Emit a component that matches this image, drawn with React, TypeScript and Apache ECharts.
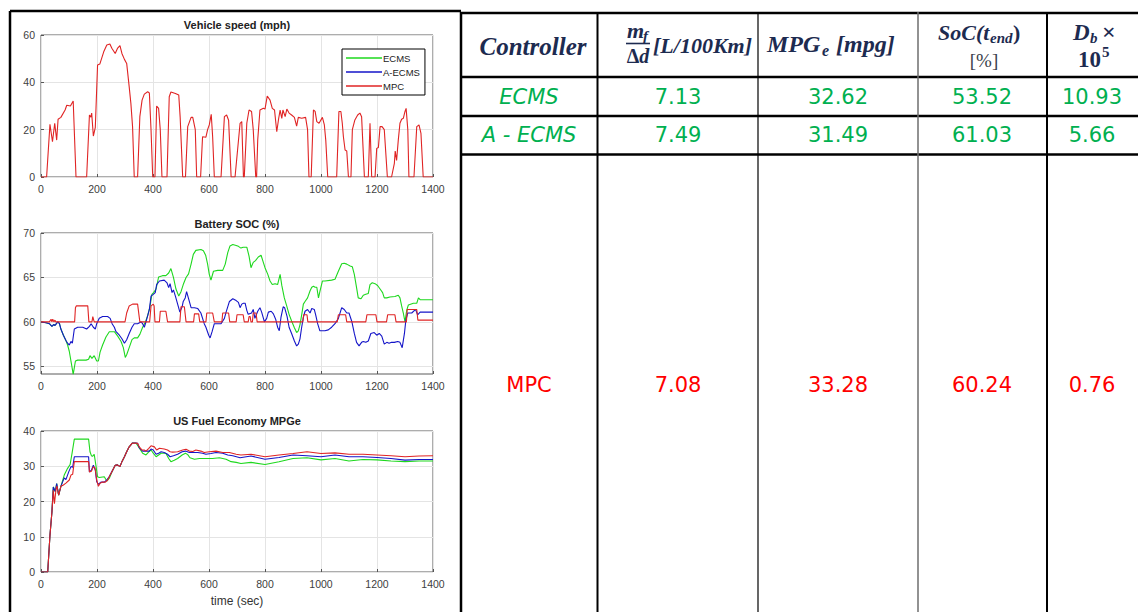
import React, { useEffect, useRef } from "react";
import * as echarts from "echarts";

// ---------------- data ----------------
const timeTicks = [0, 200, 400, 600, 800, 1000, 1200, 1400];
const controllers = ["ECMS", "A - ECMS", "MPC"];
const fuelRate = ["7.13", "7.49", "7.08"];
const mpgeValues = ["32.62", "31.49", "33.28"];
const socEnd = ["53.52", "61.03", "60.24"];
const dbValues = ["10.93", "5.66", "0.76"];

const speedMph: number[][] = [[0,0],[20,0],[32,22.3],[41,14.9],[49,22.7],[56,15.6],[61,24.4],[71,25.2],[86,28.3],[92,30.3],[105,30],[115,32.1],[125,0],[163,0],[173,26.2],[178,25.3],[181,27],[187,17.3],[194,21],[202,47.3],[210,47.7],[224,52.9],[235,55.8],[246,56.2],[253,54.4],[265,52.2],[273,54.3],[282,55.5],[289,52.2],[298,49.7],[306,48],[315,38.1],[321,31.1],[327,21.3],[333,0],[345,0],[353,25.5],[361,32.5],[369,35],[381,36],[387,35.5],[393,19.9],[399,0],[407,0],[413,30],[420,29],[426,19.9],[432,0],[450,0],[458,33.9],[464,35.9],[480,35.3],[492,34.6],[497,25.3],[506,0],[516,0],[524,21.3],[536,25.2],[542,25.2],[551,20],[556,0],[570,0],[577,17],[589,16.8],[595,20],[601,22],[608,26.5],[613,17],[619,0],[643,0],[655,25.5],[663,26.2],[670,24],[679,0],[693,0],[711,22.7],[717,23.4],[723,0],[726,0],[735,22.7],[743,28.3],[752,27.7],[758,20],[767,0],[770,0],[774,15.6],[782,28.3],[794,29],[800,28.7],[808,34.2],[818,32.5],[826,29],[834,28.3],[842,19.1],[848,24.1],[854,28.3],[860,24.8],[864,28.3],[872,25.5],[878,28.7],[886,27],[895,26.2],[905,25.2],[913,21.5],[919,25.2],[931,24.8],[945,25.2],[952,20],[957,0],[965,0],[973,28.3],[979,27.7],[985,23.4],[993,22.7],[1005,25.2],[1012,22],[1017,15.6],[1024,0],[1056,0],[1064,27.7],[1071,27.7],[1076,22.7],[1080,17],[1086,11.4],[1092,11],[1098,0],[1107,0],[1112,20],[1121,24.1],[1131,26.2],[1139,27],[1145,25.5],[1155,0],[1169,0],[1175,22.7],[1181,0],[1193,0],[1199,12.1],[1205,12.5],[1211,21.3],[1218,21.3],[1226,20],[1237,0],[1252,0],[1262,5.8],[1265,11],[1270,7],[1276,15.6],[1282,22.7],[1288,24.4],[1294,24.8],[1300,27.7],[1304,29],[1310,20],[1314,0],[1332,0],[1342,21.3],[1350,22],[1357,18.4],[1365,0],[1400,0]];

const socEcms: number[][] = [[0,60],[18,59.9],[30,59.8],[39,59.5],[45,59.7],[50,59.6],[60,60],[66,59.8],[71,59.2],[80,58.5],[89,57.9],[95,57.4],[101,56.7],[111,54.85],[115,54.1],[123,55.6],[131,55.7],[161,55.7],[170,55.8],[175,56.2],[182,55.9],[190,56.2],[199,55.6],[205,55.6],[211,56.6],[220,57.4],[232,58.3],[244,58.9],[262,58.9],[274,58.4],[286,57.8],[294,57.1],[301,56],[306,56.3],[315,57.1],[325,58],[333,58.2],[345,58.2],[353,58.6],[363,59.4],[373,60],[381,60.7],[389,61.7],[396,63.1],[402,63.3],[411,63.7],[420,65.05],[434,65.2],[446,65.2],[456,65.5],[464,66],[473,65],[482,63.7],[492,62.9],[500,63.4],[508,64.2],[518,65],[527,65.4],[536,66.5],[544,67.6],[553,68.05],[571,68.15],[580,68],[588,67.5],[595,66.5],[601,65.35],[607,64.7],[616,65.7],[631,65.8],[649,65.8],[658,66.5],[667,67.8],[675,68.55],[685,68.7],[697,68.6],[705,68.5],[714,68.3],[722,68.4],[735,68.4],[743,67.4],[750,66.1],[758,66.7],[766,66.9],[776,67.3],[786,67.5],[794,66.7],[800,66.1],[810,65.35],[818,64.6],[826,64.2],[836,64.3],[845,64.2],[854,65.35],[860,64.1],[869,62.7],[878,61.75],[886,60.85],[895,60.1],[905,59.35],[913,58.8],[919,59],[925,59.7],[931,60.8],[937,62],[943,62.3],[952,62.7],[961,63.5],[967,63.9],[973,64],[979,63.9],[985,63.9],[991,62.7],[996,63.4],[1005,64.6],[1014,64.6],[1038,64.7],[1050,64.8],[1062,65.7],[1074,66.55],[1083,66.6],[1092,66.5],[1104,66.3],[1112,66.2],[1119,65.35],[1127,63.85],[1133,62.7],[1143,62.6],[1151,63],[1160,63.1],[1169,63.2],[1175,64.2],[1183,64.4],[1193,64.3],[1202,64.1],[1211,63.7],[1220,63.3],[1226,62.7],[1235,62.7],[1246,62.8],[1264,62.85],[1276,63],[1282,62.7],[1288,61.8],[1294,61],[1300,60],[1306,61.3],[1312,61.9],[1330,62.1],[1342,62.1],[1348,62.7],[1354,62.5],[1400,62.5]];

const socAecms: number[][] = [[0,60],[18,59.9],[30,59.8],[39,59.5],[45,59.7],[50,59.6],[60,60],[66,59.8],[71,59.2],[80,58.5],[89,57.9],[95,57.6],[101,57.4],[107,57.8],[112,57.6],[119,59.2],[131,59.4],[149,59.4],[163,59.2],[173,59.5],[179,59.8],[187,59.4],[194,59.2],[199,59.8],[208,60.4],[220,60.6],[238,60.6],[247,60.4],[254,59.8],[262,59.4],[268,58.9],[280,58.5],[289,58.1],[298,57.6],[306,58],[315,58.7],[325,59.4],[333,59.8],[345,59.8],[357,60],[363,59.8],[369,59.4],[375,60],[387,61.4],[393,62.9],[401,63.1],[408,63.3],[413,64.2],[423,64.6],[440,64.7],[450,64.4],[456,63.85],[461,64.3],[468,63.3],[473,63.6],[480,62.9],[488,62],[496,61.1],[504,61.7],[508,62.3],[515,62.7],[520,63.4],[528,62.5],[536,61.6],[548,61.6],[560,61.5],[571,61],[583,59.8],[589,59.4],[599,58.5],[604,58.2],[611,58.9],[619,59.8],[631,59.8],[643,59.8],[655,60.4],[661,61.1],[673,62.3],[685,62.6],[697,62.4],[705,62.2],[711,61.6],[717,62],[723,62.1],[729,62.1],[735,61.3],[740,60.85],[752,61],[758,61.4],[764,60.4],[774,61.2],[782,61.6],[788,61.1],[798,60],[806,60.4],[812,61.1],[822,61.2],[830,60.9],[838,60.3],[845,59.4],[851,59],[857,60.5],[865,61.7],[870,61.6],[879,60.6],[886,59.4],[895,58.7],[905,57.85],[913,57.3],[919,57.5],[925,58.1],[931,59.4],[937,60.5],[943,61.2],[952,61.4],[961,61],[967,61.5],[976,61.4],[981,60.8],[988,59.8],[996,59],[1005,59],[1014,59],[1026,59.1],[1038,59.4],[1050,59.8],[1062,60.4],[1074,61.6],[1083,61.4],[1092,61],[1100,61],[1110,60.05],[1119,58.7],[1127,57.7],[1136,57.3],[1145,57.7],[1151,57.8],[1160,57.7],[1169,57.85],[1178,58.7],[1190,58.8],[1199,58.5],[1208,58.7],[1217,58.4],[1226,57.5],[1235,57.7],[1243,57.6],[1252,57.7],[1262,57.7],[1274,57.8],[1282,57.7],[1290,57.1],[1298,58.7],[1303,60.2],[1310,61],[1324,61],[1338,61.4],[1345,60.8],[1354,61.1],[1400,61.1]];

const socMpc: number[][] = [[0,60],[30,60],[36,60.3],[39,60],[42,60.3],[46,60],[50,60.2],[53,60],[120,60],[123,61.6],[126,61.8],[167,61.8],[171,60],[182,60],[185,60.6],[190,60],[300,60],[306,61],[315,61.8],[327,62],[345,62],[353,60],[388,60],[393,61.8],[401,62],[404,61.8],[407,60],[423,60],[426,61.2],[446,61.2],[452,60],[496,60],[500,61.7],[512,61.7],[518,60],[545,60],[548,60.9],[563,60.9],[567,60],[589,60],[592,61],[613,61],[619,60],[646,60],[649,61],[670,61],[674,60],[697,60],[700,60.8],[722,60.8],[726,60],[740,60],[743,60.6],[747,60.6],[750,60],[755,60],[758,61],[768,61],[772,60],[935,60],[938,60.8],[950,60.8],[953,60],[1058,60],[1062,60.8],[1088,60.8],[1092,60],[1160,60],[1164,60.8],[1196,60.8],[1200,60],[1234,60],[1238,60.8],[1264,60.8],[1268,60],[1305,60],[1308,61.4],[1342,61.4],[1346,60.2],[1400,60.2]];

const mpgEcms: number[][] = [[0,0],[24,0],[32,10.4],[39,17],[44,24.1],[51,22.8],[56,25.1],[63,21.8],[71,24.3],[83,27.5],[95,29.4],[104,30.5],[111,33.7],[119,37.7],[170,37.7],[175,34.1],[180,33],[184,32.8],[190,33.4],[196,30.3],[202,27],[208,26.8],[226,27],[235,25.8],[244,26.6],[256,28.9],[265,30.3],[273,30.4],[282,29.9],[289,31.3],[298,32.7],[306,34.1],[315,35.5],[327,36.6],[339,36.6],[351,35.2],[363,33.7],[375,33.2],[385,34.1],[393,34.6],[401,33.7],[411,32.7],[420,33.2],[429,33.7],[446,33.7],[456,32.2],[464,31.3],[476,31.7],[488,32.2],[504,33.2],[516,33.7],[524,33.3],[532,32.4],[548,32],[566,32.2],[589,32.2],[613,32.2],[637,32.4],[661,32],[679,31.3],[697,31.1],[714,30.8],[750,31.1],[800,30.5],[850,31.3],[900,32.2],[950,32.4],[1000,31.8],[1050,32.2],[1100,31.5],[1150,31.9],[1200,31.8],[1250,31.5],[1300,31.3],[1350,31.5],[1400,31.5]];

const mpgAecms: number[][] = [[0,0],[24,0],[32,10.4],[39,17],[44,24.1],[51,22.8],[56,25.1],[63,21.8],[71,24.3],[83,26.7],[89,26.2],[99,28.4],[107,29.9],[113,29.7],[119,32.7],[170,32.7],[173,28.4],[180,28.9],[187,30.3],[194,28.9],[199,25.6],[205,24.9],[214,25.5],[226,25.5],[235,26.1],[244,27.1],[256,28.9],[265,30.3],[273,30.4],[282,29.9],[289,31.3],[298,32.7],[306,34.1],[315,35.5],[327,36.6],[339,36.6],[345,36.5],[351,35.2],[363,34.3],[387,34.3],[393,34.9],[401,34.6],[411,33.4],[420,33.7],[429,34.1],[440,33.9],[452,33.4],[461,32.7],[473,33],[488,33.4],[504,34.1],[516,34.3],[530,33.9],[560,33.9],[577,33.7],[589,33.4],[607,33.6],[625,33.9],[649,33.7],[667,33.2],[685,33],[711,32.4],[750,32.9],[800,32],[850,32.5],[900,33.2],[950,33],[1000,32.7],[1050,33.2],[1100,32.7],[1150,32.7],[1200,32.5],[1250,32.2],[1300,31.75],[1350,31.9],[1400,31.9]];

const mpgMpc: number[][] = [[0,0],[24,0],[32,10.4],[39,17],[44,23.2],[48,19.4],[54,23.6],[57,24.4],[63,21.8],[71,24.3],[80,24.7],[89,25.2],[101,26.1],[107,27.5],[113,27.7],[119,31.3],[170,31.3],[173,28.4],[180,28.6],[187,29.9],[193,29.5],[199,26.1],[205,24.3],[211,25.2],[220,25.5],[230,25.5],[238,26.1],[247,27.5],[256,28.9],[265,30.3],[273,30.4],[282,29.9],[289,31.3],[298,32.7],[306,34.1],[315,35.5],[325,36.5],[333,36.6],[345,36.5],[351,35.5],[361,34.6],[369,34.6],[375,34.3],[385,35.1],[393,35.8],[405,35.5],[413,34.6],[423,35.1],[440,34.9],[452,34.6],[461,34.1],[470,34],[488,34.1],[506,34.6],[518,34.8],[530,34.3],[542,34.2],[553,34.6],[571,34.3],[583,33.9],[601,34.1],[625,34.3],[649,33.9],[673,33.9],[697,33.4],[714,33.2],[750,33.4],[800,32.7],[850,33.2],[900,33.6],[950,34.1],[1000,33.6],[1050,33.8],[1100,33.4],[1150,33.4],[1200,33.2],[1250,33],[1300,32.7],[1350,32.9],[1400,33]];

// ---------------- styles ----------------
const GREEN = "#1ed81e";
const BLUE = "#1414c8";
const RED = "#e02424";
const TBL_GREEN = "#00b050";
const TBL_RED = "#ff0000";
const NAVY = "#1d2b50";
const AX_FONT = "Liberation Sans";

const grids = [
  { left: 41, top: 35, width: 392, height: 142 },
  { left: 41, top: 233, width: 392, height: 141 },
  { left: 41, top: 431, width: 392, height: 141 },
];

function xAxisFor(i: number) {
  return {
    type: "value",
    gridIndex: i,
    min: 0,
    max: 1400,
    interval: 200,
    axisLine: { show: false },
    axisTick: { show: true, inside: true, length: 3, lineStyle: { color: "#555" } },
    axisLabel: {
      show: true,
      color: "#404040",
      fontFamily: AX_FONT,
      fontSize: 10.5,
      margin: 6,
      customValues: timeTicks,
      formatter: (v: number) => String(v),
    },
    splitLine: { show: true, lineStyle: { color: "#e4e4e4", width: 1 } },
  };
}

function yAxisFor(i: number, min: number, max: number, ticks: number[]) {
  return {
    type: "value",
    gridIndex: i,
    min,
    max,
    axisLine: { show: false },
    axisTick: { show: true, inside: true, length: 3, lineStyle: { color: "#555" }, customValues: ticks },
    axisLabel: {
      show: true,
      color: "#404040",
      fontFamily: AX_FONT,
      fontSize: 10.5,
      margin: 6,
      customValues: ticks,
      formatter: (v: number) => String(v),
    },
    splitLine: { show: true, lineStyle: { color: "#e4e4e4", width: 1 } },
  };
}

function line(name: string, data: number[][], color: string, i: number, z: number) {
  return {
    type: "line",
    name,
    data,
    xAxisIndex: i,
    yAxisIndex: i,
    symbol: "none",
    showSymbol: false,
    z,
    lineStyle: { color, width: 1.1 },
    itemStyle: { color },
    emphasis: { disabled: true },
  };
}

function txt(x: number, y: number, text: string, o: any = {}) {
  return {
    type: "text",
    x,
    y,
    silent: true,
    style: {
      text,
      fill: o.fill || NAVY,
      fontSize: o.size || 22,
      fontFamily: o.family || "Liberation Serif",
      fontWeight: o.weight || "bold",
      fontStyle: o.style || "italic",
      align: o.align || "left",
      verticalAlign: "middle",
    },
  };
}

function seg(x1: number, y1: number, x2: number, y2: number, w: number, c = "#000") {
  return { type: "line", silent: true, shape: { x1, y1, x2, y2 }, style: { stroke: c, lineWidth: w } };
}

function buildGraphic() {
  const els: any[] = [];
  // left panel frame
  els.push(seg(10, 11, 10, 612, 2.5));
  els.push(seg(10, 11, 461, 11, 2.5));
  // chart titles
  const title = (x: number, y: number, t: string) =>
    txt(x, y, t, { family: AX_FONT, size: 11, weight: "bold", style: "normal", fill: "#222", align: "center" });
  els.push(title(237, 25, "Vehicle speed (mph)"));
  els.push(title(237, 224, "Battery SOC (%)"));
  els.push(title(237, 421, "US Fuel Economy MPGe"));
  els.push(txt(237, 601, "time (sec)", { family: AX_FONT, size: 12, weight: "normal", style: "normal", fill: "#333", align: "center" }));

  // table grid
  els.push(seg(461, 12, 461, 612, 2.5));
  els.push(seg(460, 13, 1138, 13, 2.5));
  els.push(seg(460, 77, 1138, 77, 2.5));
  els.push(seg(460, 116, 1138, 116, 2.5));
  els.push(seg(460, 154.5, 1138, 154.5, 2.5));
  els.push(seg(597.5, 12, 597.5, 612, 2));
  els.push(seg(758, 12, 758, 612, 1.2));
  els.push(seg(918, 12, 918, 612, 1.5, "#6e6e6e"));
  els.push(seg(1047, 12, 1047, 612, 2));

  // header
  els.push(txt(533, 46, "Controller", { size: 25, align: "center" }));
  // m_f / Δd [L/100Km]
  els.push(txt(627, 30, "m", { size: 22 }));
  els.push(txt(643, 36, "f", { size: 15 }));
  els.push(seg(626, 43.5, 650, 43.5, 1.6, NAVY));
  els.push({
    type: "text",
    x: 638,
    y: 56,
    silent: true,
    style: {
      text: "{a|Δ}{b|d}",
      align: "center",
      verticalAlign: "middle",
      rich: {
        a: { fontFamily: "Liberation Serif", fontWeight: "bold", fontSize: 20, fill: NAVY, color: NAVY },
        b: { fontFamily: "Liberation Serif", fontWeight: "bold", fontStyle: "italic", fontSize: 20, fill: NAVY, color: NAVY },
      },
    },
  });
  els.push(txt(653, 45, "[L/100Km]", { size: 22 }));
  // MPG_e [mpg]
  els.push(txt(767, 44, "MPG", { size: 24 }));
  els.push(txt(822, 50, "e", { size: 16 }));
  els.push(txt(836, 44, "[mpg]", { size: 24 }));
  // SoC(t_end) [%]
  els.push(txt(938, 32, "SoC(t", { size: 22 }));
  els.push(txt(990, 38, "end", { size: 15 }));
  els.push(txt(1013, 32, ")", { size: 22, style: "normal" }));
  els.push(txt(984, 60, "[%]", { size: 19, weight: "normal", style: "normal", fill: "#3a3f4c", align: "center" }));
  // D_b x 10^5
  els.push(txt(1073, 32, "D", { size: 23 }));
  els.push(txt(1090, 38, "b", { size: 15 }));
  els.push(txt(1102, 32, "×", { size: 24, style: "normal" }));
  els.push(txt(1078, 59, "10", { size: 23, style: "normal" }));
  els.push(txt(1102, 52, "5", { size: 15, style: "normal" }));

  // body rows
  const rowY = [97, 135, 385];
  const rowColor = [TBL_GREEN, TBL_GREEN, TBL_RED];
  const colX = [529, 678, 838, 982, 1092];
  controllers.forEach((c, r) => {
    const common = { family: "DejaVu Sans", size: 21, weight: "normal", fill: rowColor[r], align: "center" };
    els.push(txt(colX[0], rowY[r], c, { ...common, style: r < 2 ? "italic" : "normal" }));
    els.push(txt(colX[1], rowY[r], fuelRate[r], { ...common, style: "normal" }));
    els.push(txt(colX[2], rowY[r], mpgeValues[r], { ...common, style: "normal" }));
    els.push(txt(colX[3], rowY[r], socEnd[r], { ...common, style: "normal" }));
    els.push(txt(colX[4], rowY[r], dbValues[r], { ...common, style: "normal" }));
  });
  return els;
}

export default function App() {
  const ref = useRef<HTMLDivElement>(null);
  useEffect(() => {
    if (!ref.current) return;
    const chart = echarts.init(ref.current, undefined, { renderer: "svg" });
    const option: any = {
      animation: false,
      backgroundColor: "#ffffff",
      legend: {
        show: true,
        data: ["ECMS", "A-ECMS", "MPC"],
        icon: "rect",
        orient: "vertical",
        left: 342,
        top: 49,
        itemWidth: 36,
        itemHeight: 1.3,
        itemGap: 2,
        padding: [3, 5, 3, 4],
        selectedMode: false,
        backgroundColor: "#fff",
        borderColor: "#000",
        borderWidth: 1,
        borderRadius: 0,
        textStyle: { fontFamily: AX_FONT, fontSize: 9.5, color: "#222", padding: [0, 0, 0, -4], lineHeight: 12 },
      },
      grid: grids.map((g) => ({ ...g, show: true, borderColor: "#5a5a5a", borderWidth: 1, backgroundColor: "#fff", containLabel: false })),
      xAxis: [xAxisFor(0), xAxisFor(1), xAxisFor(2)],
      yAxis: [
        yAxisFor(0, 0, 60, [0, 20, 40, 60]),
        yAxisFor(1, 54.14, 70, [55, 60, 65, 70]),
        yAxisFor(2, 0, 40, [0, 10, 20, 30, 40]),
      ],
      series: [
        line("MPC", speedMph, RED, 0, 5),
        line("ECMS", socEcms, GREEN, 1, 3),
        line("A-ECMS", socAecms, BLUE, 1, 4),
        line("MPC", socMpc, RED, 1, 5),
        line("ECMS", mpgEcms, GREEN, 2, 3),
        line("A-ECMS", mpgAecms, BLUE, 2, 4),
        line("MPC", mpgMpc, RED, 2, 5),
      ],
      graphic: { elements: buildGraphic() },
    };
    chart.setOption(option);
    return () => chart.dispose();
  }, []);
  return (
    <div
      ref={ref}
      style={{ position: "absolute", left: 0, top: 0, width: 1138, height: 612, background: "#fff" }}
    />
  );
}
